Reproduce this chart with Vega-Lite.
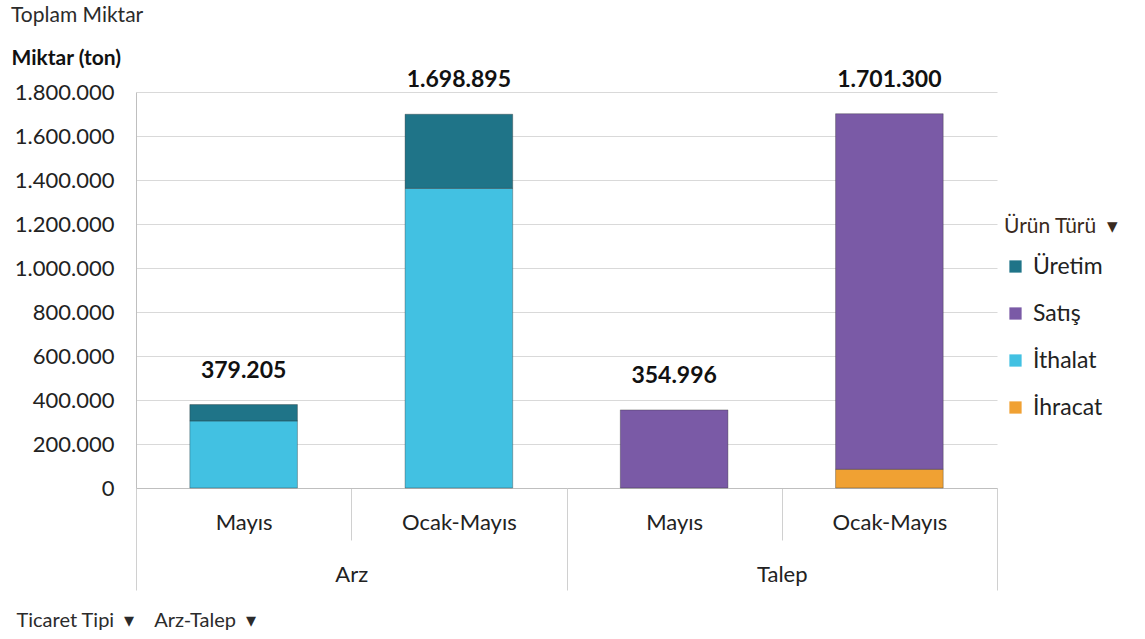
{
  "$schema": "https://vega.github.io/schema/vega-lite/v6.json",
  "width": 861,
  "height": 396,
  "padding": {"left": 11, "top": 5, "right": 0, "bottom": 5},
  "background": "white",
  "title": {"text": "Toplam Miktar", "anchor": "start", "frame": "bounds", "fontSize": 21, "fontWeight": "normal", "font": "Lato", "color": "#2b2b2b", "offset": 21},
  "data": {
    "values": [
      {"grup": "Arz", "donem": "Mayıs", "kategori": "Arz / Mayıs", "urun": "İthalat", "miktar": 305000},
      {"grup": "Arz", "donem": "Mayıs", "kategori": "Arz / Mayıs", "urun": "Üretim", "miktar": 74205},
      {"grup": "Arz", "donem": "Ocak-Mayıs", "kategori": "Arz / Ocak-Mayıs", "urun": "İthalat", "miktar": 1362000},
      {"grup": "Arz", "donem": "Ocak-Mayıs", "kategori": "Arz / Ocak-Mayıs", "urun": "Üretim", "miktar": 336895},
      {"grup": "Talep", "donem": "Mayıs", "kategori": "Talep / Mayıs", "urun": "Satış", "miktar": 354996},
      {"grup": "Talep", "donem": "Ocak-Mayıs", "kategori": "Talep / Ocak-Mayıs", "urun": "İhracat", "miktar": 85000},
      {"grup": "Talep", "donem": "Ocak-Mayıs", "kategori": "Talep / Ocak-Mayıs", "urun": "Satış", "miktar": 1616300}
    ]
  },
  "layer": [
    {
      "layer": [
        {
          "mark": {"type": "bar", "width": {"band": 0.5}, "stroke": "#2a2a2a", "strokeWidth": 0.7, "strokeOpacity": 0.5},
          "encoding": {
            "x": {
              "field": "kategori", "type": "nominal",
              "sort": ["Arz / Mayıs", "Arz / Ocak-Mayıs", "Talep / Mayıs", "Talep / Ocak-Mayıs"],
              "scale": {"paddingInner": 0, "paddingOuter": 0},
              "axis": {
                "orient": "bottom",
                "labelExpr": "split(datum.label, ' / ')[1]", "labelAngle": 0,
                "tickBand": "extent", "tickSize": 52, "tickColor": "#d0d0d0",
                "domainColor": "#bfbfbf", "labelPadding": -28, "labelFontSize": 22,
                "labelFont": "Lato", "labelColor": "#222", "grid": false, "title": null
              }
            },
            "y": {
              "field": "miktar", "type": "quantitative", "stack": "zero",
              "scale": {"domain": [0, 1800000], "nice": false},
              "axis": {
                "values": [0, 200000, 400000, 600000, 800000, 1000000, 1200000, 1400000, 1600000, 1800000],
                "format": ",d", "grid": true, "gridColor": "#d9d9d9", "domain": true, "domainColor": "#bfbfbf",
                "ticks": false, "labelPadding": 22, "labelFontSize": 22, "labelFont": "Lato", "labelColor": "#222",
                "title": "Miktar (ton)", "titleAngle": 0, "titleAlign": "left", "titleBaseline": "middle",
                "titleX": -125, "titleY": -34, "titleFontSize": 21, "titleFontWeight": "bold", "titleFont": "Lato", "titleColor": "#111"
              }
            },
            "color": {
              "field": "urun", "type": "nominal",
              "scale": {"domain": ["Üretim", "Satış", "İthalat", "İhracat"], "range": ["#1f7488", "#7a5aa6", "#42c1e2", "#f0a133"]},
              "legend": {
                "orient": "none", "legendX": 868, "legendY": 124, "title": "Ürün Türü\u00a0\u00a0▾",
                "titleFontSize": 21, "titleFont": "Lato", "titleFontWeight": "normal", "titleColor": "#3a2a20",
                "labelFontSize": 23, "labelFont": "Lato", "labelColor": "#222", "symbolType": "square", "symbolSize": 150,
                "symbolStrokeWidth": 0, "rowPadding": 23, "titlePadding": 18, "labelOffset": 6
              }
            },
            "order": {"field": "urun", "sort": "descending"}
          }
        },
        {
          "transform": [{"aggregate": [{"op": "sum", "field": "miktar", "as": "toplam"}], "groupby": ["kategori"]}],
          "mark": {"type": "text", "fontWeight": "bold", "fontSize": 23, "font": "Lato", "dy": -34, "baseline": "middle", "color": "#111"},
          "encoding": {
            "x": {"field": "kategori", "type": "nominal", "sort": ["Arz / Mayıs", "Arz / Ocak-Mayıs", "Talep / Mayıs", "Talep / Ocak-Mayıs"]},
            "y": {"field": "toplam", "type": "quantitative"},
            "text": {"field": "toplam", "type": "quantitative", "format": ",d"}
          }
        }
      ]
    },
    {
      "mark": {"type": "tick", "opacity": 0},
      "encoding": {
        "x": {
          "field": "grup", "type": "nominal",
          "scale": {"paddingInner": 0, "paddingOuter": 0},
          "axis": {
            "orient": "bottom", "tickBand": "extent", "tickSize": 102, "tickColor": "#d0d0d0", "domain": false,
            "labelPadding": -26, "labelFontSize": 22, "labelFont": "Lato", "labelColor": "#222", "labelAngle": 0,
            "title": "Ticaret Tipi\u00a0\u00a0▾\u00a0\u00a0\u00a0\u00a0Arz-Talep\u00a0\u00a0▾", "titleX": -120, "titleY": 132, "titleAlign": "left",
            "titleBaseline": "middle", "titleFontSize": 20, "titleFontWeight": "normal", "titleFont": "Lato", "titleColor": "#2b2b2b"
          }
        }
      }
    }
  ],
  "resolve": {"scale": {"x": "independent"}, "axis": {"x": "independent"}},
  "config": {
    "view": {"stroke": null},
    "font": "Lato",
    "locale": {"number": {"decimal": ",", "thousands": ".", "grouping": [3], "currency": ["", ""]}}
  }
}
